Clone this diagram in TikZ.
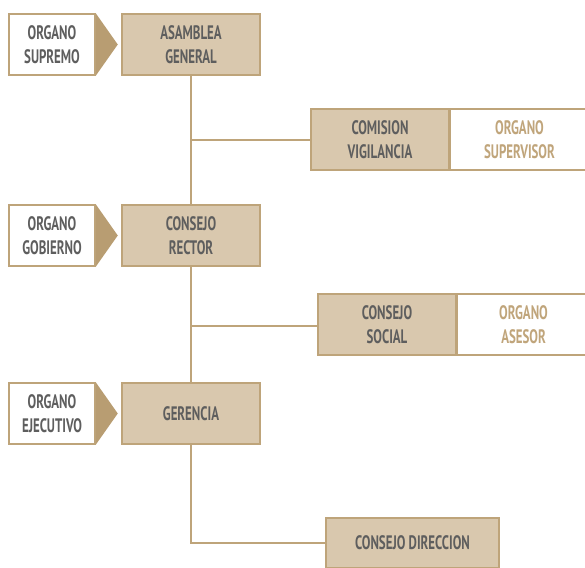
\documentclass[tikz,border=0pt]{standalone}
\usepackage{fontspec}
\usetikzlibrary{calc}
\newfontfamily\lblfont[FakeStretch=0.66]{PT Sans Bold}
\definecolor{fillc}{HTML}{D9C8AE}
\definecolor{borderc}{HTML}{BEA47A}
\definecolor{trianc}{HTML}{B89D72}
\definecolor{textg}{HTML}{5E5E5E}
\definecolor{textt}{HTML}{C0A57B}
\tikzset{
  box/.style={draw=borderc, line width=1.5pt, inner sep=0pt, align=center,
    font=\lblfont\fontsize{19.5}{23.5}\selectfont, minimum height=61pt},
  mainbox/.style={box, fill=fillc, text=textg, minimum width=138pt},
  sidebox/.style={box, fill=white, text=textg, minimum width=86pt},
  rolebox/.style={box, fill=white, text=textt},
  conn/.style={draw=borderc, line width=2pt},
  tri/.style={fill=trianc}
}
\begin{document}
\begin{tikzpicture}[x=1pt,y=-1pt]
\useasboundingbox (0,0) rectangle (585,567);
\clip (0,0) rectangle (585,567);
% main column
\node[mainbox] (asamblea) at (191,44.5) {ASAMBLEA\\GENERAL};
\node[mainbox] (rector) at (191,235.5) {CONSEJO\\RECTOR};
\node[mainbox] (gerencia) at (191,413.5) {GERENCIA};
% side labels
\node[sidebox] (supremo) at (52,44.5) {ORGANO\\SUPREMO};
\node[sidebox] (gobierno) at (52,235.5) {ORGANO\\GOBIERNO};
\node[sidebox] (ejecutivo) at (52,413.5) {ORGANO\\EJECUTIVO};
% triangles
\foreach \s in {supremo,gobierno,ejecutivo}{
  \fill[tri] (\s.north east) -- ($(\s.east)+(22,0)$) -- (\s.south east) -- cycle;
}
% connectors
\draw[conn] (asamblea.south) -- (rector.north);
\draw[conn] (rector.south) -- (gerencia.north);
% branches
\node[mainbox] (comision) at (380,139.5) {COMISION\\VIGILANCIA};
\node[rolebox, minimum width=138pt, anchor=west] (supervisor) at (comision.east) {ORGANO\\SUPERVISOR};
\node[mainbox] (social) at (387,324.5) {CONSEJO\\SOCIAL};
\node[rolebox, minimum width=132pt, anchor=west] (asesor) at (social.east) {ORGANO\\ASESOR};
\node[mainbox, minimum width=173pt, minimum height=50pt] (direccion) at (412.5,543) {CONSEJO DIRECCION};
\draw[conn] (asamblea.south |- comision.west) -- (comision.west);
\draw[conn] (asamblea.south |- 0,326) -- (social.west |- 0,326);
\draw[conn] (gerencia.south) |- (direccion.west);
\end{tikzpicture}
\end{document}
